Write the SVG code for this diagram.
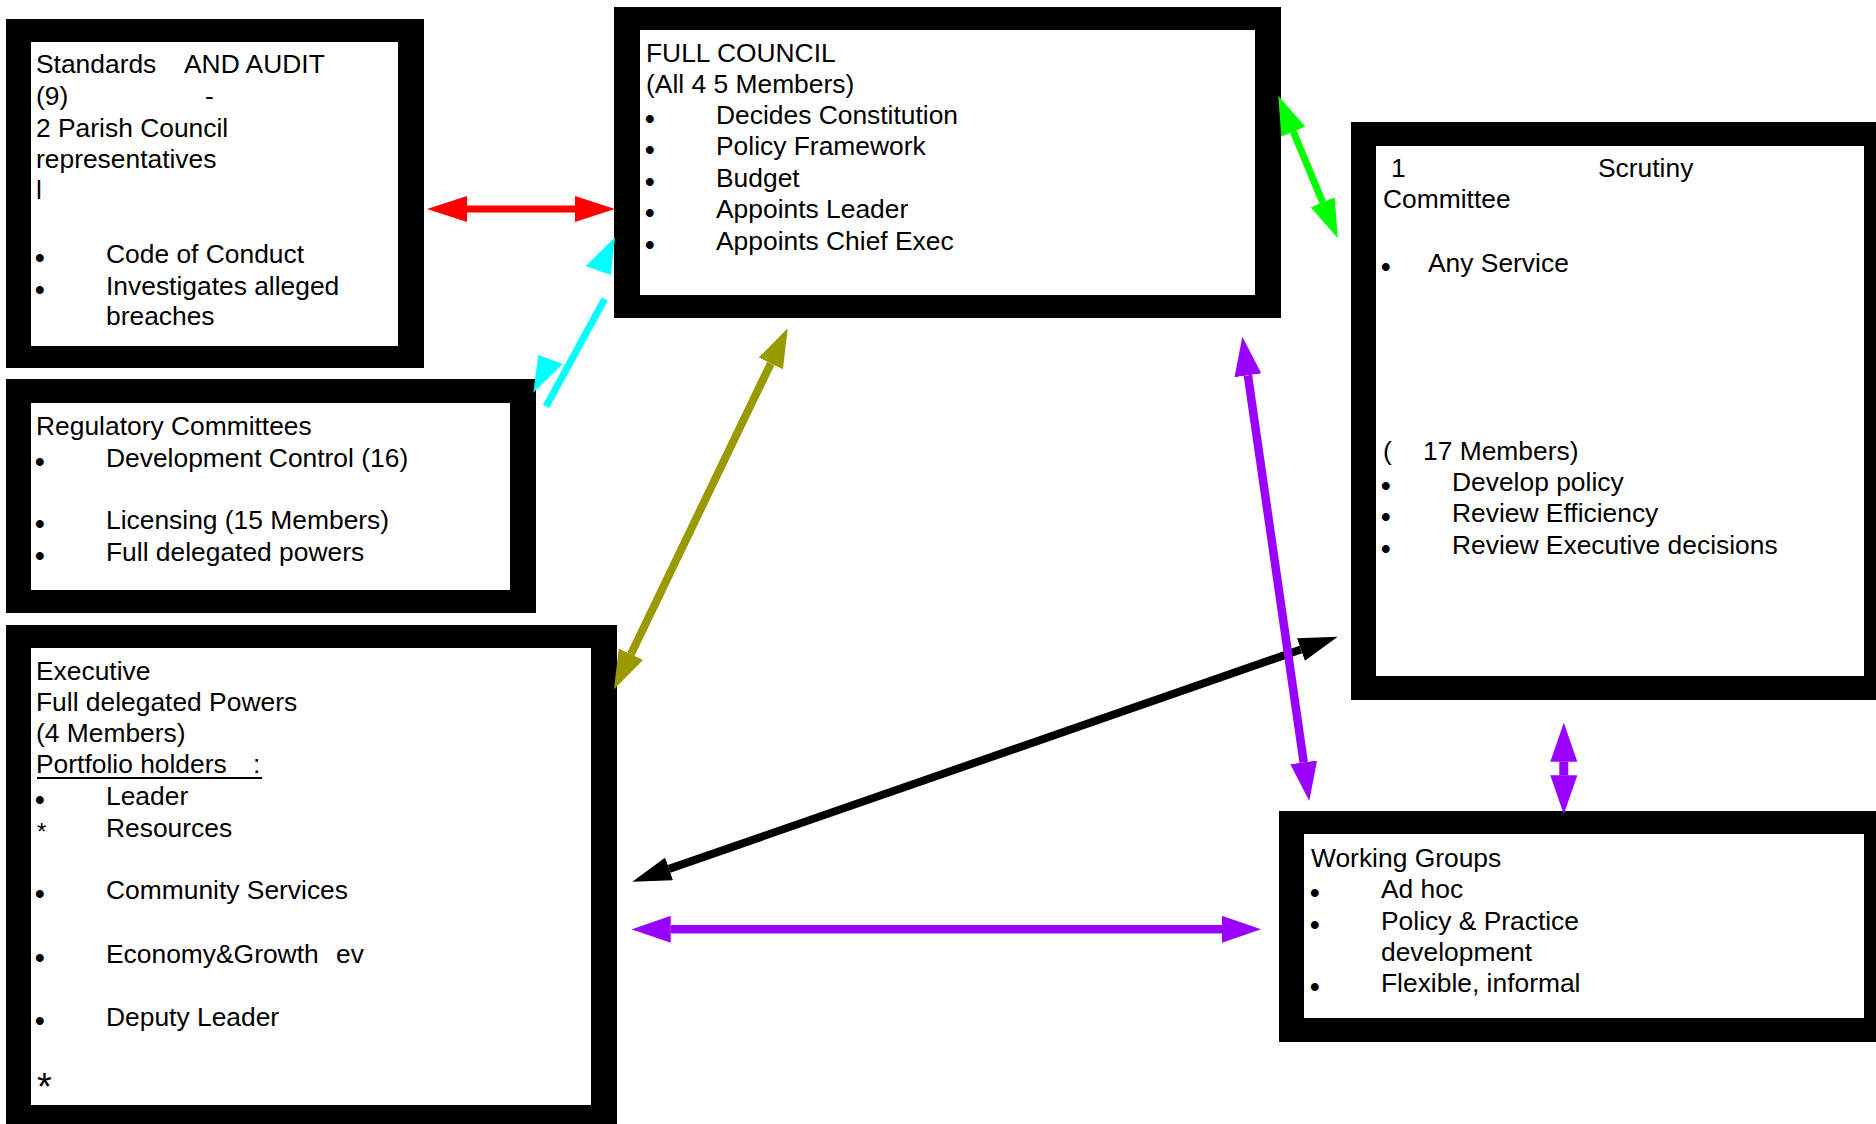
<svg xmlns="http://www.w3.org/2000/svg" width="1876" height="1124" viewBox="0 0 1876 1124">
<style>
.outer{fill:#000}
.inner{fill:#fff}
text{font-family:"Liberation Sans",Arial,sans-serif;font-size:26.4px;fill:#000;white-space:pre}
.b{font-size:27.5px;font-weight:bold}
.conn{fill:none}
</style>
<defs>
<marker id="mRed" markerUnits="userSpaceOnUse" markerWidth="40" markerHeight="26" refX="0" refY="13" orient="auto-start-reverse"><path d="M0,0 L40,13 L0,26 z" fill="#ff0000"/></marker>
<marker id="mGreen" markerUnits="userSpaceOnUse" markerWidth="39" markerHeight="26" refX="0" refY="13" orient="auto-start-reverse"><path d="M0,0 L39,13 L0,26 z" fill="#00ff00"/></marker>
<marker id="mOlive" markerUnits="userSpaceOnUse" markerWidth="39" markerHeight="27" refX="0" refY="13.5" orient="auto-start-reverse"><path d="M0,0 L39,13.5 L0,27 z" fill="#999900"/></marker>
<marker id="mBlack" markerUnits="userSpaceOnUse" markerWidth="39" markerHeight="24" refX="0" refY="12" orient="auto-start-reverse"><path d="M0,0 L39,12 L0,24 z" fill="#000000"/></marker>
<marker id="mPurple" markerUnits="userSpaceOnUse" markerWidth="39" markerHeight="27" refX="0" refY="13.5" orient="auto-start-reverse"><path d="M0,0 L39,13.5 L0,27 z" fill="#9900ff"/></marker>
</defs>

<g id="standards">
<rect class="outer" x="6" y="19" width="418" height="349"/>
<rect class="inner" x="31" y="42" width="367" height="304"/>
<text x="36" y="73">Standards<tspan x="184">AND AUDIT</tspan></text>
<text x="36" y="105">(9)<tspan x="205">-</tspan></text>
<text x="36" y="137">2 Parish Council</text>
<text x="36" y="168">representatives</text>
<text x="36" y="199">l</text>
<text class="b"><tspan x="35" y="266.5">•</tspan><tspan x="35" y="298.5">•</tspan></text>
<text x="106" y="263">Code of Conduct</text>
<text x="106" y="295">Investigates alleged</text>
<text x="106" y="325">breaches</text>
</g>

<g id="full-council">
<rect class="outer" x="614" y="7" width="667" height="311"/>
<rect class="inner" x="640" y="30" width="615" height="265"/>
<text x="646" y="62">FULL COUNCIL</text>
<text x="646" y="93">(All 4 5 Members)</text>
<text class="b"><tspan x="645" y="127.5">•</tspan><tspan x="645" y="158.5">•</tspan><tspan x="645" y="190.5">•</tspan><tspan x="645" y="221.5">•</tspan><tspan x="645" y="253.5">•</tspan></text>
<text x="716" y="124">Decides Constitution</text>
<text x="716" y="155">Policy Framework</text>
<text x="716" y="187">Budget</text>
<text x="716" y="218">Appoints Leader</text>
<text x="716" y="250">Appoints Chief Exec</text>
</g>

<g id="scrutiny">
<rect class="outer" x="1351" y="122" width="540" height="578"/>
<rect class="inner" x="1376" y="146" width="488" height="530"/>
<text x="1391" y="177">1</text>
<text x="1598" y="177">Scrutiny</text>
<text x="1383" y="208">Committee</text>
<text class="b" x="1381" y="275.5">•</text>
<text x="1428" y="272">Any Service</text>
<text x="1383" y="460">(<tspan x="1423">17 Members)</tspan></text>
<text class="b"><tspan x="1381" y="494.5">•</tspan><tspan x="1381" y="525.5">•</tspan><tspan x="1381" y="557.5">•</tspan></text>
<text x="1452" y="491">Develop policy</text>
<text x="1452" y="522">Review Efficiency</text>
<text x="1452" y="554">Review Executive decisions</text>
</g>

<g id="regulatory">
<rect class="outer" x="6" y="379" width="530" height="234"/>
<rect class="inner" x="31" y="403" width="479" height="187"/>
<text x="36" y="435">Regulatory Committees</text>
<text class="b"><tspan x="35" y="470.5">•</tspan><tspan x="35" y="532.5">•</tspan><tspan x="35" y="564.5">•</tspan></text>
<text x="106" y="467">Development Control (16)</text>
<text x="106" y="529">Licensing (15 Members)</text>
<text x="106" y="561">Full delegated powers</text>
</g>

<g id="executive">
<rect class="outer" x="6" y="625" width="611" height="510"/>
<rect class="inner" x="31" y="648" width="560" height="457"/>
<text x="36" y="680">Executive</text>
<text x="36" y="711">Full delegated Powers</text>
<text x="36" y="742">(4 Members)</text>
<text x="36" y="773">Portfolio holders<tspan x="253">:</tspan></text>
<line x1="37" y1="778" x2="262" y2="778" stroke="#000" stroke-width="2"/>
<text class="b"><tspan x="35" y="808.5">•</tspan><tspan x="35" y="902.5">•</tspan><tspan x="35" y="966.5">•</tspan><tspan x="35" y="1029.5">•</tspan></text>
<text x="37" y="840" style="font-size:24px">*</text>
<text x="106" y="805">Leader</text>
<text x="106" y="837">Resources</text>
<text x="106" y="899">Community Services</text>
<text x="106" y="963">Economy&amp;Growth<tspan x="336">ev</tspan></text>
<text x="106" y="1026">Deputy Leader</text>
<text x="37" y="1100" style="font-size:38px">*</text>
</g>

<g id="working-groups">
<rect class="outer" x="1279" y="811" width="612" height="231"/>
<rect class="inner" x="1304" y="834" width="560" height="184"/>
<text x="1311" y="867">Working Groups</text>
<text class="b"><tspan x="1310" y="901.5">•</tspan><tspan x="1310" y="933.5">•</tspan><tspan x="1310" y="995.5">•</tspan></text>
<text x="1381" y="898">Ad hoc</text>
<text x="1381" y="930">Policy &amp; Practice</text>
<text x="1381" y="961">development</text>
<text x="1381" y="992">Flexible, informal</text>
</g>

<g id="connectors" class="conn">
<line x1="467" y1="209" x2="575" y2="209" stroke="#ff0000" stroke-width="7" marker-start="url(#mRed)" marker-end="url(#mRed)"/>
<line x1="1293.3" y1="131.7" x2="1322.7" y2="202.3" stroke="#00ff00" stroke-width="7" marker-start="url(#mGreen)" marker-end="url(#mGreen)"/>
<line x1="770.8" y1="363.4" x2="630.9" y2="654.2" stroke="#999900" stroke-width="8" marker-start="url(#mOlive)" marker-end="url(#mOlive)"/>
<line x1="669.1" y1="868.9" x2="1300.9" y2="649.5" stroke="#000000" stroke-width="8" marker-start="url(#mBlack)" marker-end="url(#mBlack)"/>
<line x1="1247.9" y1="375.3" x2="1303.7" y2="762.4" stroke="#9900ff" stroke-width="8.5" marker-start="url(#mPurple)" marker-end="url(#mPurple)"/>
<line x1="670.7" y1="929.3" x2="1222" y2="929.3" stroke="#9900ff" stroke-width="8.5" marker-start="url(#mPurple)" marker-end="url(#mPurple)"/>
<line x1="1563.8" y1="761.7" x2="1563.8" y2="775.3" stroke="#9900ff" stroke-width="9" marker-start="url(#mPurple)" marker-end="url(#mPurple)"/>
<line x1="604.7" y1="299" x2="546" y2="406.5" stroke="#00ffff" stroke-width="7"/>
<polygon points="615,237.3 585.7,266 610.7,275" fill="#00ffff"/>
<polygon points="533.3,392.7 538.3,355 562.7,364" fill="#00ffff"/>
</g>
</svg>
